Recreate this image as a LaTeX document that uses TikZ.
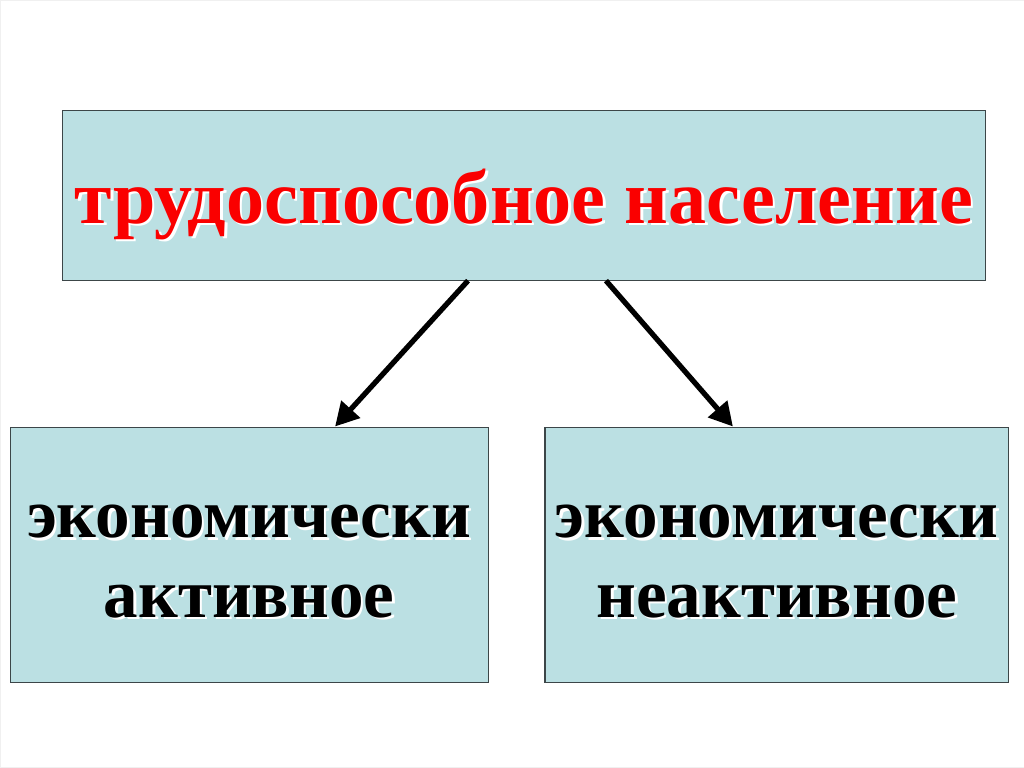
\documentclass[tikz,border=0pt]{standalone}
\usepackage{fontspec}
\setmainfont{Liberation Serif}
\usepackage{xcolor}
\usepackage{tikz}
\usetikzlibrary{arrows.meta, positioning}
\definecolor{paleteal}{RGB}{187,224,227}
\definecolor{framegray}{RGB}{60,70,72}
\definecolor{popred}{RGB}{250,0,0}
% text with a light shadow to the lower right
\newcommand{\shtext}[2]{\makebox[0pt][l]{\hspace{2.2pt}\raisebox{-2.2pt}{\color{white}#2}}{\color{#1}#2}}

\begin{document}
\begin{tikzpicture}[
        x=0.03cm, y=-0.03cm,
        catbox/.style={rectangle, draw=framegray, line width=0.9pt, fill=paleteal,
                       align=center, inner sep=0pt,
                       font=\fontsize{59}{68}\selectfont\bfseries},
        branch/.style={-{Triangle[length=20pt, width=21pt]}, line width=4.5pt, black},
      ]
      \path[draw=black!6, fill=white] (0,0) rectangle (1024,767);
      \node[catbox, minimum width=27.72cm, minimum height=5.1cm,
            font=\fontsize{65}{70}\selectfont\bfseries,
            text height=47.6pt, text depth=0pt] (labour) at (524,195)
        {\shtext{popred}{трудоспособное население}};
      \node[catbox, minimum width=14.34cm, minimum height=7.68cm] (active) at (249,555)
        {\rule{0pt}{40.8pt}\shtext{black}{экономически}\\\shtext{black}{активное}};
      \node[catbox, minimum width=13.92cm, minimum height=7.68cm] (inactive) at (777,555)
        {\rule{0pt}{40.8pt}\shtext{black}{экономически}\\\shtext{black}{неактивное}};
      \draw[branch] ([xshift=-56*0.03cm]labour.south) -- ([xshift=86*0.03cm]active.north);
      \draw[branch] ([xshift=82*0.03cm]labour.south) -- ([xshift=-44*0.03cm]inactive.north);
    \end{tikzpicture}
\end{document}
